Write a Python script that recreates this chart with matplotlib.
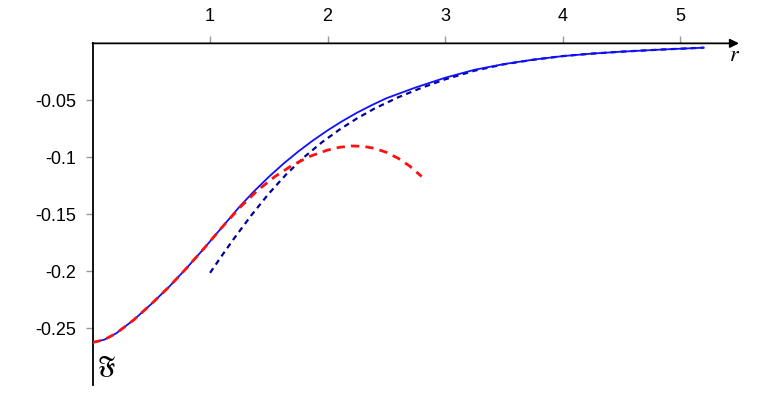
import numpy as np
import matplotlib
matplotlib.use("Agg")
import matplotlib.pyplot as plt

plt.rcParams['font.family'] = ['Liberation Sans', 'DejaVu Sans']
plt.rcParams['mathtext.fontset'] = 'stix'

# full curve (blue solid)
r_full = [0, 0.1, 0.2, 0.35, 0.5, 0.65, 0.8, 0.95, 1.1, 1.25, 1.375, 1.5, 1.625,
          1.75, 1.875, 2.0, 2.125, 2.25, 2.375, 2.5, 2.75, 3.0, 3.25, 3.5, 3.75,
          4.0, 4.25, 4.5, 4.85, 5.2]
F_full = [-0.2627, -0.2602, -0.2547, -0.2429, -0.2289, -0.2139, -0.1974, -0.1799,
          -0.1617, -0.1435, -0.1298, -0.1172, -0.1056, -0.0950, -0.0853, -0.0764,
          -0.0683, -0.0609, -0.0543, -0.0482, -0.0387, -0.0302, -0.0232, -0.0182,
          -0.0143, -0.0112, -0.0090, -0.0073, -0.0054, -0.0038]

# small-r approximation (red dashed)
r_small = [0, 0.1, 0.2, 0.35, 0.5, 0.65, 0.8, 0.95, 1.1, 1.25, 1.4, 1.55, 1.7,
           1.85, 2.0, 2.1, 2.2, 2.3, 2.4, 2.5, 2.6, 2.7, 2.8]
F_small = [-0.2627, -0.2602, -0.2547, -0.2429, -0.2289, -0.2139, -0.1974, -0.1799,
           -0.1617, -0.1445, -0.1295, -0.1171, -0.1070, -0.0992, -0.0937, -0.0913,
           -0.0901, -0.0904, -0.0922, -0.0957, -0.1009, -0.1079, -0.1169]

# large-r approximation (dark blue dashed)
r_large = [1.0, 1.1, 1.2, 1.35, 1.5, 1.65, 1.8, 1.95, 2.1, 2.25, 2.4, 2.6, 2.8,
           3.0, 3.25, 3.5, 3.75, 4.0, 4.25, 4.5, 4.85, 5.2]
F_large = [-0.2015, -0.1865, -0.1719, -0.1511, -0.1319, -0.1148, -0.0999, -0.0870,
           -0.0758, -0.0659, -0.0572, -0.0474, -0.0390, -0.0316, -0.0240, -0.0184,
           -0.0144, -0.0112, -0.0090, -0.0073, -0.0054, -0.0038]

xticks = [1, 2, 3, 4, 5]
yticks = [-0.05, -0.1, -0.15, -0.2, -0.25]
ytick_labels = ['-0.05', '-0.1', '-0.15', '-0.2', '-0.25']

fig = plt.figure(figsize=(7.73, 4.09), dpi=100)
ax = fig.add_axes([0.1197, 0.0587, 0.8363, 0.8353])

ax.plot(r_full, F_full, color='#1010ff', lw=1.3, zorder=3)
ax.plot(r_large, F_large, color='#00009a', lw=1.6, ls=(0, (2.5, 2)), zorder=2)
ax.plot(r_small, F_small, color='#ff1010', lw=2.0, ls=(0, (3, 2.2)), zorder=4)

ax.set_xlim(0, 5.5)
ax.set_ylim(-0.3, 0)

for s in ['right', 'bottom', 'top']:
    ax.spines[s].set_visible(False)
ax.spines['left'].set_linewidth(1.3)

# r axis with arrow
ax.annotate('', xy=(5.5, 0), xytext=(0, 0), annotation_clip=False,
            arrowprops=dict(arrowstyle='-|>', color='black', lw=1.3,
                            mutation_scale=13, shrinkA=0, shrinkB=0))

ax.xaxis.tick_top()
ax.set_xticks(xticks)
ax.set_xticklabels([str(t) for t in xticks])
ax.set_yticks(yticks)
ax.set_yticklabels(ytick_labels)
ax.tick_params(axis='both', direction='out', length=5, width=1, color='#999999',
               labelsize=13, pad=7)
ax.tick_params(axis='x', pad=8)

ax.text(5.46, -0.011, '$r$', fontsize=16, ha='center', va='center')
ax.text(0.12, -0.284, r'$\mathfrak{F}$', fontsize=17, ha='center', va='center')

fig.savefig('out.png', dpi=100)
